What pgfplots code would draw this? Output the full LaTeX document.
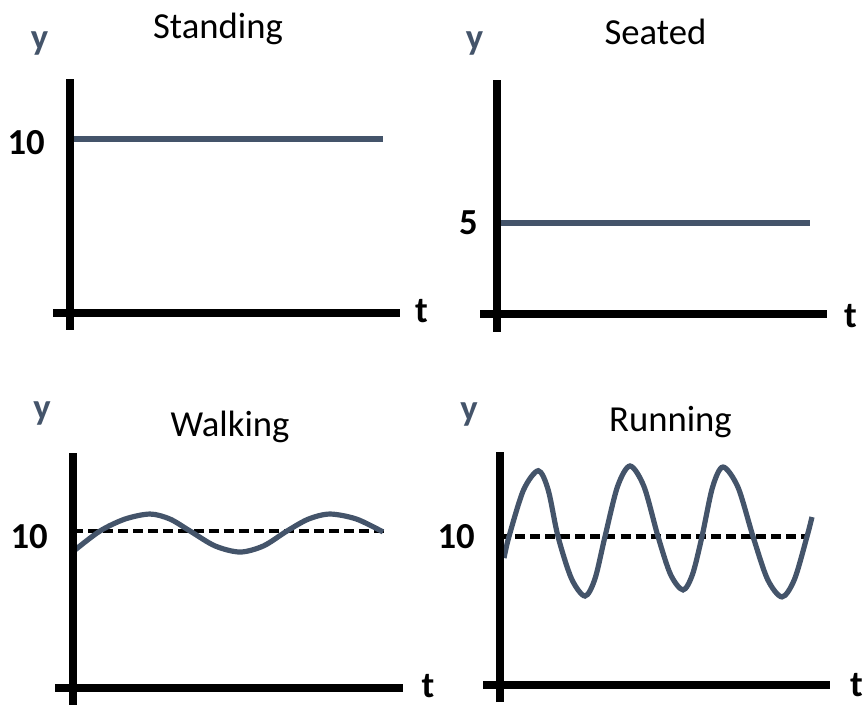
\documentclass[border=0pt]{standalone}
\usepackage{fontspec}
\setmainfont{Carlito}
\usepackage{pgfplots}
\pgfplotsset{compat=1.18}
\definecolor{slate}{HTML}{44546A}
\newcommand\lbl{\fontsize{27.5}{32}\selectfont}

\pgfplotsset{
  motion/.style={
    anchor=origin,
    axis lines=middle,
    axis line style={-, black, line width=6pt, line cap=butt},
    axis on top,
    clip=false,
    x=7.5pt,
    xmin=-1.7, xmax=33,
    xtick=\empty,
    major tick length=0pt,
    /pgf/number format/assume math mode=true,
    yticklabel style={font=\lbl\bfseries, anchor=east, inner sep=0pt},
    every axis title shift=0pt,
    every axis title/.style={font=\lbl, anchor=base, inner sep=0pt},
    every axis x label/.style={font=\lbl\bfseries, anchor=base, inner sep=0pt},
    every axis y label/.style={font=\lbl\bfseries, text=slate, anchor=base, inner sep=0pt},
    xlabel={t}, ylabel={y},
  },
  signal/.style={slate, line width=3.9pt, line cap=butt},
  level/.style={black, line width=3.4pt, dash pattern=on 7.5pt off 3.8pt},
}

\begin{document}
\begin{tikzpicture}
\useasboundingbox (0,0) rectangle (649.5pt,528.75pt);

% Standing: constant height
\begin{axis}[motion, at={(52.5pt,294pt)},
  y=13.05pt, ymin=-0.977, ymax=13.45,
  ytick={10}, yticklabels={10},
  yticklabel style={xshift=-18.75pt, yshift=-3pt},
  title={Standing}, title style={at={(axis cs:14.8,15.78)}},
  xlabel style={at={(axis cs:35.15,-0.575)}},
  ylabel style={at={(axis cs:-3.05,15.17)}}]
\addplot[signal] coordinates {(0,10) (31.3,10)};
\end{axis}

% Seated: constant, lower height
\begin{axis}[motion, at={(372.75pt,293.25pt)},
  y=13.65pt, ymin=-0.989, ymax=12.857,
  ytick={5}, yticklabels={5},
  yticklabel style={xshift=-14.25pt},
  title={Seated}, title style={at={(axis cs:15.85,14.78)}},
  xlabel style={at={(axis cs:35.35,-0.769)}},
  ylabel style={at={(axis cs:-2.25,14.51)}}]
\addplot[signal] coordinates {(0,5) (31.3,5)};
\end{axis}

% Walking: slow, small oscillation about 10
\begin{axis}[motion, at={(54.75pt,12.75pt)},
  xmin=-1.8,
  y=11.775pt, ymin=-1.083, ymax=14.97,
  ytick={10}, yticklabels={10},
  yticklabel style={xshift=-18.75pt, yshift=-4.5pt},
  title={Walking}, title style={at={(axis cs:15.7,15.99)}},
  xlabel style={at={(axis cs:35.5,-0.6)}},
  ylabel style={at={(axis cs:-3.1,17.13)}}]
\addplot[level] coordinates {(0,10) (31.2,10)};
\addplot[signal, smooth] coordinates {
  (0.2,8.79) (2.7,10) (5.2,10.76) (7.7,11.08) (9.7,10.76) (11.7,10)
  (14.2,9.05) (16.7,8.66) (19.05,9.05) (21.4,10) (23.55,10.76)
  (25.7,11.08) (28.35,10.76) (31.0,9.94)};
\end{axis}

% Running: fast, large oscillation about 10
\begin{axis}[motion, at={(375pt,15pt)},
  y=11.1375pt, ymin=-1.145, ymax=15.69,
  ytick={10}, yticklabels={10},
  yticklabel style={xshift=-18.75pt},
  title={Running}, title style={at={(axis cs:17.05,17.04)}},
  xlabel style={at={(axis cs:35.65,-0.78)}},
  ylabel style={at={(axis cs:-3.1,17.78)}}]
\addplot[level] coordinates {(0,10) (30.6,10)};
\addplot[signal, smooth] coordinates {
  (0.4,8.55) (0.9,10) (2.35,13.13) (3.83,14.43) (4.82,13.13) (5.8,10)
  (7.15,7.16) (8.5,5.99) (9.5,7.16) (10.5,10) (11.75,13.36) (13.0,14.75)
  (14.4,13.36) (15.8,10) (17.05,7.45) (18.3,6.40) (19.25,7.45) (20.2,10)
  (21.25,13.31) (22.3,14.68) (23.8,13.31) (25.3,10) (26.75,7.12)
  (28.2,5.93) (29.45,7.12) (30.7,10) (31.2,11.31)};
\end{axis}
\end{tikzpicture}
\end{document}
